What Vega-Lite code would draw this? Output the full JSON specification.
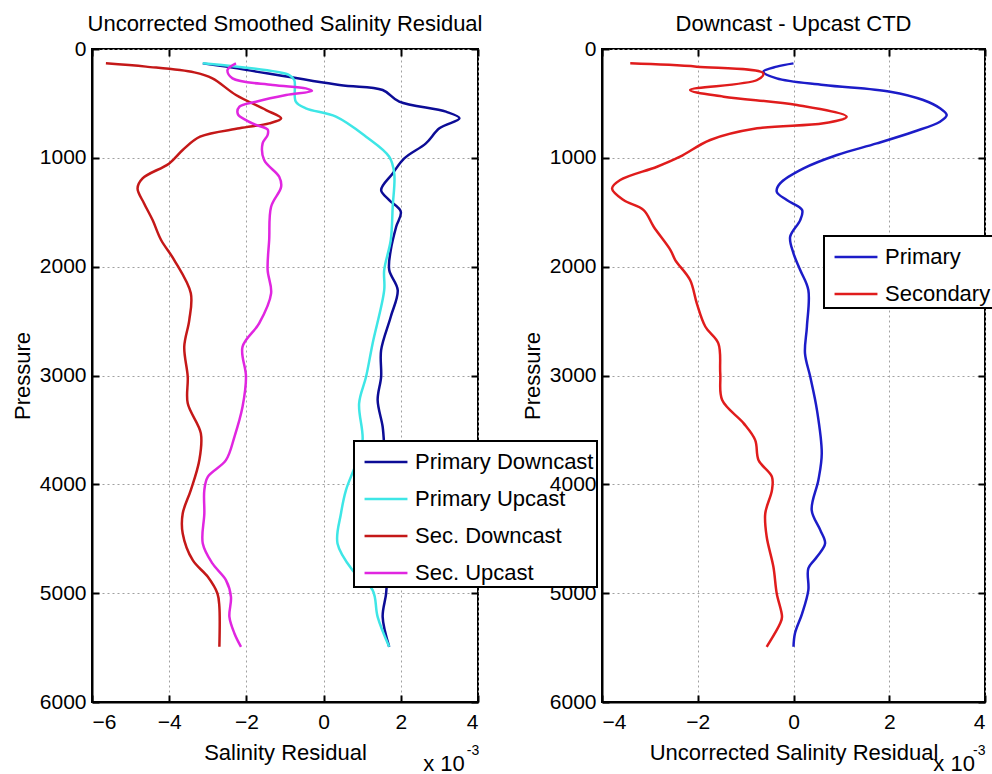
{
  "$schema": "https://vega.github.io/schema/vega-lite/v6.json",
  "autosize": {"type": "none"},
  "padding": {"left": 92, "top": 49, "right": 900, "bottom": 725},
  "background": "white",
  "bounds": "flush",
  "spacing": 124,
  "resolve": {"scale": {"color": "independent"}, "legend": {"color": "independent"}},
  "config": {
    "font": "Liberation Sans",
    "view": {"stroke": "black", "strokeWidth": 2},
    "axis": {
      "labelFont": "Liberation Sans", "labelFontSize": 21, "labelColor": "black",
      "titleFont": "Liberation Sans", "titleFontSize": 22, "titleFontWeight": "normal", "titleColor": "black",
      "domainColor": "black", "domainWidth": 2,
      "tickColor": "black", "tickWidth": 2, "tickSize": -7,
      "gridColor": "#a0a0a0", "gridDash": [2, 3], "gridWidth": 1
    },
    "title": {"font": "Liberation Sans", "fontSize": 22, "fontWeight": "normal", "color": "black", "anchor": "middle", "baseline": "alphabetic", "offset": 2},
    "legend": {
      "orient": "none", "title": null, "labelFont": "Liberation Sans", "labelFontSize": 22, "labelColor": "black",
      "symbolType": "M-1.3,0H1.3", "symbolSize": 1089, "symbolStrokeWidth": 2.5, "symbolOffset": 11, "labelOffset": 11, "labelLimit": 400,
      "fillColor": "white", "strokeColor": "black", "strokeWidth": 2, "padding": 3, "rowPadding": 8
    }
  },
  "datasets": {
    "left": [
      {"series": "Primary Downcast", "pressure": 132, "residual": -3.13},
      {"series": "Primary Downcast", "pressure": 162, "residual": -2.53},
      {"series": "Primary Downcast", "pressure": 331, "residual": 0.41},
      {"series": "Primary Downcast", "pressure": 377, "residual": 1.53},
      {"series": "Primary Downcast", "pressure": 484, "residual": 1.96},
      {"series": "Primary Downcast", "pressure": 576, "residual": 3.17},
      {"series": "Primary Downcast", "pressure": 637, "residual": 3.52},
      {"series": "Primary Downcast", "pressure": 729, "residual": 3.0},
      {"series": "Primary Downcast", "pressure": 867, "residual": 2.65},
      {"series": "Primary Downcast", "pressure": 1005, "residual": 2.09},
      {"series": "Primary Downcast", "pressure": 1143, "residual": 1.79},
      {"series": "Primary Downcast", "pressure": 1296, "residual": 1.49},
      {"series": "Primary Downcast", "pressure": 1388, "residual": 1.7},
      {"series": "Primary Downcast", "pressure": 1495, "residual": 2.0},
      {"series": "Primary Downcast", "pressure": 1633, "residual": 1.88},
      {"series": "Primary Downcast", "pressure": 1847, "residual": 1.74},
      {"series": "Primary Downcast", "pressure": 2031, "residual": 1.7},
      {"series": "Primary Downcast", "pressure": 2215, "residual": 1.92},
      {"series": "Primary Downcast", "pressure": 2460, "residual": 1.74},
      {"series": "Primary Downcast", "pressure": 2767, "residual": 1.49},
      {"series": "Primary Downcast", "pressure": 3012, "residual": 1.49},
      {"series": "Primary Downcast", "pressure": 3226, "residual": 1.4},
      {"series": "Primary Downcast", "pressure": 3471, "residual": 1.53},
      {"series": "Primary Downcast", "pressure": 3655, "residual": 1.57},
      {"series": "Primary Downcast", "pressure": 3900, "residual": 1.6},
      {"series": "Primary Downcast", "pressure": 4200, "residual": 1.55},
      {"series": "Primary Downcast", "pressure": 4500, "residual": 1.6},
      {"series": "Primary Downcast", "pressure": 4800, "residual": 1.65},
      {"series": "Primary Downcast", "pressure": 5003, "residual": 1.62},
      {"series": "Primary Downcast", "pressure": 5218, "residual": 1.53},
      {"series": "Primary Downcast", "pressure": 5493, "residual": 1.7},
      {"series": "Primary Upcast", "pressure": 132, "residual": -3.13},
      {"series": "Primary Upcast", "pressure": 239, "residual": -0.89},
      {"series": "Primary Upcast", "pressure": 285, "residual": -0.76},
      {"series": "Primary Upcast", "pressure": 484, "residual": -0.72},
      {"series": "Primary Upcast", "pressure": 545, "residual": -0.46},
      {"series": "Primary Upcast", "pressure": 622, "residual": 0.32},
      {"series": "Primary Upcast", "pressure": 806, "residual": 1.1},
      {"series": "Primary Upcast", "pressure": 990, "residual": 1.7},
      {"series": "Primary Upcast", "pressure": 1143, "residual": 1.83},
      {"series": "Primary Upcast", "pressure": 1449, "residual": 1.79},
      {"series": "Primary Upcast", "pressure": 1755, "residual": 1.74},
      {"series": "Primary Upcast", "pressure": 2031, "residual": 1.57},
      {"series": "Primary Upcast", "pressure": 2215, "residual": 1.57},
      {"series": "Primary Upcast", "pressure": 2705, "residual": 1.27},
      {"series": "Primary Upcast", "pressure": 3012, "residual": 1.1},
      {"series": "Primary Upcast", "pressure": 3256, "residual": 0.92},
      {"series": "Primary Upcast", "pressure": 3594, "residual": 1.01},
      {"series": "Primary Upcast", "pressure": 3800, "residual": 0.85},
      {"series": "Primary Upcast", "pressure": 4053, "residual": 0.58},
      {"series": "Primary Upcast", "pressure": 4268, "residual": 0.45},
      {"series": "Primary Upcast", "pressure": 4543, "residual": 0.36},
      {"series": "Primary Upcast", "pressure": 4789, "residual": 0.75},
      {"series": "Primary Upcast", "pressure": 4972, "residual": 1.27},
      {"series": "Primary Upcast", "pressure": 5218, "residual": 1.4},
      {"series": "Primary Upcast", "pressure": 5493, "residual": 1.7},
      {"series": "Sec. Downcast", "pressure": 132, "residual": -5.64},
      {"series": "Sec. Downcast", "pressure": 162, "residual": -4.6},
      {"series": "Sec. Downcast", "pressure": 215, "residual": -3.35},
      {"series": "Sec. Downcast", "pressure": 270, "residual": -2.88},
      {"series": "Sec. Downcast", "pressure": 423, "residual": -2.27},
      {"series": "Sec. Downcast", "pressure": 561, "residual": -1.49},
      {"series": "Sec. Downcast", "pressure": 637, "residual": -1.1},
      {"series": "Sec. Downcast", "pressure": 683, "residual": -1.41},
      {"series": "Sec. Downcast", "pressure": 729, "residual": -2.18},
      {"series": "Sec. Downcast", "pressure": 806, "residual": -3.2},
      {"series": "Sec. Downcast", "pressure": 928, "residual": -3.65},
      {"series": "Sec. Downcast", "pressure": 1051, "residual": -4.0},
      {"series": "Sec. Downcast", "pressure": 1189, "residual": -4.69},
      {"series": "Sec. Downcast", "pressure": 1281, "residual": -4.82},
      {"series": "Sec. Downcast", "pressure": 1419, "residual": -4.65},
      {"series": "Sec. Downcast", "pressure": 1572, "residual": -4.43},
      {"series": "Sec. Downcast", "pressure": 1755, "residual": -4.21},
      {"series": "Sec. Downcast", "pressure": 1939, "residual": -3.87},
      {"series": "Sec. Downcast", "pressure": 2245, "residual": -3.44},
      {"series": "Sec. Downcast", "pressure": 2491, "residual": -3.48},
      {"series": "Sec. Downcast", "pressure": 2736, "residual": -3.61},
      {"series": "Sec. Downcast", "pressure": 3012, "residual": -3.52},
      {"series": "Sec. Downcast", "pressure": 3256, "residual": -3.52},
      {"series": "Sec. Downcast", "pressure": 3532, "residual": -3.18},
      {"series": "Sec. Downcast", "pressure": 3778, "residual": -3.22},
      {"series": "Sec. Downcast", "pressure": 4053, "residual": -3.44},
      {"series": "Sec. Downcast", "pressure": 4268, "residual": -3.65},
      {"series": "Sec. Downcast", "pressure": 4451, "residual": -3.65},
      {"series": "Sec. Downcast", "pressure": 4697, "residual": -3.39},
      {"series": "Sec. Downcast", "pressure": 4850, "residual": -3.0},
      {"series": "Sec. Downcast", "pressure": 5003, "residual": -2.75},
      {"series": "Sec. Downcast", "pressure": 5126, "residual": -2.7},
      {"series": "Sec. Downcast", "pressure": 5493, "residual": -2.7},
      {"series": "Sec. Upcast", "pressure": 132, "residual": -2.27},
      {"series": "Sec. Upcast", "pressure": 193, "residual": -2.49},
      {"series": "Sec. Upcast", "pressure": 270, "residual": -2.36},
      {"series": "Sec. Upcast", "pressure": 331, "residual": -1.32},
      {"series": "Sec. Upcast", "pressure": 362, "residual": -0.46},
      {"series": "Sec. Upcast", "pressure": 385, "residual": -0.3},
      {"series": "Sec. Upcast", "pressure": 423, "residual": -0.97},
      {"series": "Sec. Upcast", "pressure": 484, "residual": -1.75},
      {"series": "Sec. Upcast", "pressure": 530, "residual": -2.18},
      {"series": "Sec. Upcast", "pressure": 600, "residual": -2.22},
      {"series": "Sec. Upcast", "pressure": 653, "residual": -2.01},
      {"series": "Sec. Upcast", "pressure": 698, "residual": -1.75},
      {"series": "Sec. Upcast", "pressure": 740, "residual": -1.45},
      {"series": "Sec. Upcast", "pressure": 790, "residual": -1.45},
      {"series": "Sec. Upcast", "pressure": 867, "residual": -1.58},
      {"series": "Sec. Upcast", "pressure": 1020, "residual": -1.54},
      {"series": "Sec. Upcast", "pressure": 1174, "residual": -1.15},
      {"series": "Sec. Upcast", "pressure": 1266, "residual": -1.1},
      {"series": "Sec. Upcast", "pressure": 1449, "residual": -1.36},
      {"series": "Sec. Upcast", "pressure": 1755, "residual": -1.41},
      {"series": "Sec. Upcast", "pressure": 2031, "residual": -1.45},
      {"series": "Sec. Upcast", "pressure": 2245, "residual": -1.36},
      {"series": "Sec. Upcast", "pressure": 2521, "residual": -1.67},
      {"series": "Sec. Upcast", "pressure": 2736, "residual": -2.1},
      {"series": "Sec. Upcast", "pressure": 3012, "residual": -2.01},
      {"series": "Sec. Upcast", "pressure": 3287, "residual": -2.1},
      {"series": "Sec. Upcast", "pressure": 3563, "residual": -2.31},
      {"series": "Sec. Upcast", "pressure": 3778, "residual": -2.53},
      {"series": "Sec. Upcast", "pressure": 3931, "residual": -3.0},
      {"series": "Sec. Upcast", "pressure": 4053, "residual": -3.09},
      {"series": "Sec. Upcast", "pressure": 4268, "residual": -3.09},
      {"series": "Sec. Upcast", "pressure": 4543, "residual": -3.13},
      {"series": "Sec. Upcast", "pressure": 4727, "residual": -2.88},
      {"series": "Sec. Upcast", "pressure": 4880, "residual": -2.53},
      {"series": "Sec. Upcast", "pressure": 5034, "residual": -2.4},
      {"series": "Sec. Upcast", "pressure": 5218, "residual": -2.44},
      {"series": "Sec. Upcast", "pressure": 5370, "residual": -2.31},
      {"series": "Sec. Upcast", "pressure": 5493, "residual": -2.14}
    ],
    "right": [
      {"series": "Primary", "pressure": 132, "residual": 0.0},
      {"series": "Primary", "pressure": 162, "residual": -0.35},
      {"series": "Primary", "pressure": 208, "residual": -0.63},
      {"series": "Primary", "pressure": 270, "residual": -0.35},
      {"series": "Primary", "pressure": 331, "residual": 0.63},
      {"series": "Primary", "pressure": 392, "residual": 2.02},
      {"series": "Primary", "pressure": 469, "residual": 2.71},
      {"series": "Primary", "pressure": 545, "residual": 3.06},
      {"series": "Primary", "pressure": 607, "residual": 3.2},
      {"series": "Primary", "pressure": 668, "residual": 3.06},
      {"series": "Primary", "pressure": 760, "residual": 2.51},
      {"series": "Primary", "pressure": 867, "residual": 1.74},
      {"series": "Primary", "pressure": 974, "residual": 0.91},
      {"series": "Primary", "pressure": 1097, "residual": 0.21},
      {"series": "Primary", "pressure": 1235, "residual": -0.28},
      {"series": "Primary", "pressure": 1311, "residual": -0.35},
      {"series": "Primary", "pressure": 1388, "residual": -0.14},
      {"series": "Primary", "pressure": 1480, "residual": 0.18},
      {"series": "Primary", "pressure": 1572, "residual": 0.14},
      {"series": "Primary", "pressure": 1725, "residual": -0.07},
      {"series": "Primary", "pressure": 1878, "residual": 0.0},
      {"series": "Primary", "pressure": 2031, "residual": 0.14},
      {"series": "Primary", "pressure": 2215, "residual": 0.31},
      {"series": "Primary", "pressure": 2552, "residual": 0.28},
      {"series": "Primary", "pressure": 2797, "residual": 0.24},
      {"series": "Primary", "pressure": 3012, "residual": 0.35},
      {"series": "Primary", "pressure": 3318, "residual": 0.49},
      {"series": "Primary", "pressure": 3716, "residual": 0.59},
      {"series": "Primary", "pressure": 3961, "residual": 0.52},
      {"series": "Primary", "pressure": 4237, "residual": 0.38},
      {"series": "Primary", "pressure": 4421, "residual": 0.56},
      {"series": "Primary", "pressure": 4543, "residual": 0.66},
      {"series": "Primary", "pressure": 4666, "residual": 0.49},
      {"series": "Primary", "pressure": 4773, "residual": 0.31},
      {"series": "Primary", "pressure": 4972, "residual": 0.31},
      {"series": "Primary", "pressure": 5187, "residual": 0.18},
      {"series": "Primary", "pressure": 5370, "residual": 0.03},
      {"series": "Primary", "pressure": 5493, "residual": 0.0},
      {"series": "Secondary", "pressure": 132, "residual": -3.41},
      {"series": "Secondary", "pressure": 162, "residual": -2.02},
      {"series": "Secondary", "pressure": 224, "residual": -0.63},
      {"series": "Secondary", "pressure": 285, "residual": -0.76},
      {"series": "Secondary", "pressure": 377, "residual": -2.16},
      {"series": "Secondary", "pressure": 438, "residual": -1.46},
      {"series": "Secondary", "pressure": 515, "residual": 0.07},
      {"series": "Secondary", "pressure": 622, "residual": 1.11},
      {"series": "Secondary", "pressure": 683, "residual": 0.63},
      {"series": "Secondary", "pressure": 729, "residual": -0.76},
      {"series": "Secondary", "pressure": 836, "residual": -1.74},
      {"series": "Secondary", "pressure": 990, "residual": -2.37},
      {"series": "Secondary", "pressure": 1082, "residual": -2.85},
      {"series": "Secondary", "pressure": 1204, "residual": -3.62},
      {"series": "Secondary", "pressure": 1281, "residual": -3.79},
      {"series": "Secondary", "pressure": 1388, "residual": -3.55},
      {"series": "Secondary", "pressure": 1480, "residual": -3.13},
      {"series": "Secondary", "pressure": 1633, "residual": -2.92},
      {"series": "Secondary", "pressure": 1847, "residual": -2.57},
      {"series": "Secondary", "pressure": 1939, "residual": -2.47},
      {"series": "Secondary", "pressure": 2123, "residual": -2.16},
      {"series": "Secondary", "pressure": 2337, "residual": -2.02},
      {"series": "Secondary", "pressure": 2552, "residual": -1.84},
      {"series": "Secondary", "pressure": 2705, "residual": -1.57},
      {"series": "Secondary", "pressure": 2981, "residual": -1.53},
      {"series": "Secondary", "pressure": 3226, "residual": -1.49},
      {"series": "Secondary", "pressure": 3440, "residual": -1.04},
      {"series": "Secondary", "pressure": 3594, "residual": -0.8},
      {"series": "Secondary", "pressure": 3778, "residual": -0.73},
      {"series": "Secondary", "pressure": 3931, "residual": -0.45},
      {"series": "Secondary", "pressure": 4053, "residual": -0.45},
      {"series": "Secondary", "pressure": 4268, "residual": -0.59},
      {"series": "Secondary", "pressure": 4482, "residual": -0.56},
      {"series": "Secondary", "pressure": 4758, "residual": -0.42},
      {"series": "Secondary", "pressure": 5003, "residual": -0.35},
      {"series": "Secondary", "pressure": 5218, "residual": -0.24},
      {"series": "Secondary", "pressure": 5279, "residual": -0.28},
      {"series": "Secondary", "pressure": 5493, "residual": -0.56}
    ]
  },
  "hconcat": [
    {
      "width": 386, "height": 653,
      "title": {"text": "Uncorrected Smoothed Salinity Residual"},
      "layer": [
        {
          "data": {"name": "left"},
          "mark": {"type": "line", "strokeWidth": 2.5, "interpolate": "catmull-rom"},
          "encoding": {
            "x": {"field": "residual", "type": "quantitative", "scale": {"domain": [-6, 4], "nice": false, "zero": false},
                  "axis": {"orient": "bottom", "values": [-6, -4, -2, 0, 2, 4], "title": "Salinity Residual", "labelPadding": 16, "titlePadding": 10}},
            "y": {"field": "pressure", "type": "quantitative", "scale": {"domain": [0, 6000], "reverse": true, "nice": false, "zero": false},
                  "axis": {"orient": "left", "values": [0, 1000, 2000, 3000, 4000, 5000, 6000], "format": "d", "title": "Pressure", "labelPadding": 13, "titlePadding": 5}},
            "color": {"field": "series", "type": "nominal",
                      "scale": {"domain": ["Primary Downcast", "Primary Upcast", "Sec. Downcast", "Sec. Upcast"], "range": ["#0c0c96", "#3ee6e6", "#c41818", "#e026e0"]},
                      "legend": {"legendX": 262, "legendY": 392}},
            "order": {"field": "pressure", "type": "quantitative"}
          }
        },
        {
          "data": {"name": "left"},
          "mark": {"type": "line", "opacity": 0},
          "encoding": {
            "x": {"field": "residual", "type": "quantitative", "axis": {"orient": "top", "values": [-6, -4, -2, 0, 2, 4], "labels": false, "grid": false, "domain": false, "title": null}},
            "y": {"field": "pressure", "type": "quantitative", "axis": {"orient": "right", "values": [0, 1000, 2000, 3000, 4000, 5000, 6000], "labels": false, "grid": false, "domain": false, "title": null}},
            "detail": {"field": "series"},
            "order": {"field": "pressure", "type": "quantitative"}
          }
        },
        {
          "data": {"values": [{}]},
          "mark": {"type": "text", "align": "left", "baseline": "alphabetic", "fontSize": 22, "font": "Liberation Sans", "color": "black"},
          "encoding": {"x": {"datum": 2.58, "axis": null}, "y": {"datum": 6635, "axis": null}, "text": {"value": "x 10"}}
        },
        {
          "data": {"values": [{}]},
          "mark": {"type": "text", "align": "left", "baseline": "alphabetic", "fontSize": 14, "font": "Liberation Sans", "color": "black"},
          "encoding": {"x": {"datum": 3.71, "axis": null}, "y": {"datum": 6490, "axis": null}, "text": {"value": "-3"}}
        }
      ]
    },
    {
      "width": 383, "height": 653,
      "title": {"text": "Downcast - Upcast CTD"},
      "layer": [
        {
          "data": {"name": "right"},
          "mark": {"type": "line", "strokeWidth": 2.5, "interpolate": "catmull-rom"},
          "encoding": {
            "x": {"field": "residual", "type": "quantitative", "scale": {"domain": [-4, 4], "nice": false, "zero": false},
                  "axis": {"orient": "bottom", "values": [-4, -2, 0, 2, 4], "title": "Uncorrected Salinity Residual", "labelPadding": 16, "titlePadding": 10}},
            "y": {"field": "pressure", "type": "quantitative", "scale": {"domain": [0, 6000], "reverse": true, "nice": false, "zero": false},
                  "axis": {"orient": "left", "values": [0, 1000, 2000, 3000, 4000, 5000, 6000], "format": "d", "title": "Pressure", "labelPadding": 13, "titlePadding": 5}},
            "color": {"field": "series", "type": "nominal",
                      "scale": {"domain": ["Primary", "Secondary"], "range": ["#1c1cc8", "#e01c1c"]},
                      "legend": {"legendX": 222, "legendY": 187}},
            "order": {"field": "pressure", "type": "quantitative"}
          }
        },
        {
          "data": {"name": "right"},
          "mark": {"type": "line", "opacity": 0},
          "encoding": {
            "x": {"field": "residual", "type": "quantitative", "axis": {"orient": "top", "values": [-4, -2, 0, 2, 4], "labels": false, "grid": false, "domain": false, "title": null}},
            "y": {"field": "pressure", "type": "quantitative", "axis": {"orient": "right", "values": [0, 1000, 2000, 3000, 4000, 5000, 6000], "labels": false, "grid": false, "domain": false, "title": null}},
            "detail": {"field": "series"},
            "order": {"field": "pressure", "type": "quantitative"}
          }
        },
        {
          "data": {"values": [{}]},
          "mark": {"type": "text", "align": "left", "baseline": "alphabetic", "fontSize": 22, "font": "Liberation Sans", "color": "black"},
          "encoding": {"x": {"datum": 2.92, "axis": null}, "y": {"datum": 6635, "axis": null}, "text": {"value": "x 10"}}
        },
        {
          "data": {"values": [{}]},
          "mark": {"type": "text", "align": "left", "baseline": "alphabetic", "fontSize": 14, "font": "Liberation Sans", "color": "black"},
          "encoding": {"x": {"datum": 3.75, "axis": null}, "y": {"datum": 6490, "axis": null}, "text": {"value": "-3"}}
        }
      ]
    }
  ]
}
